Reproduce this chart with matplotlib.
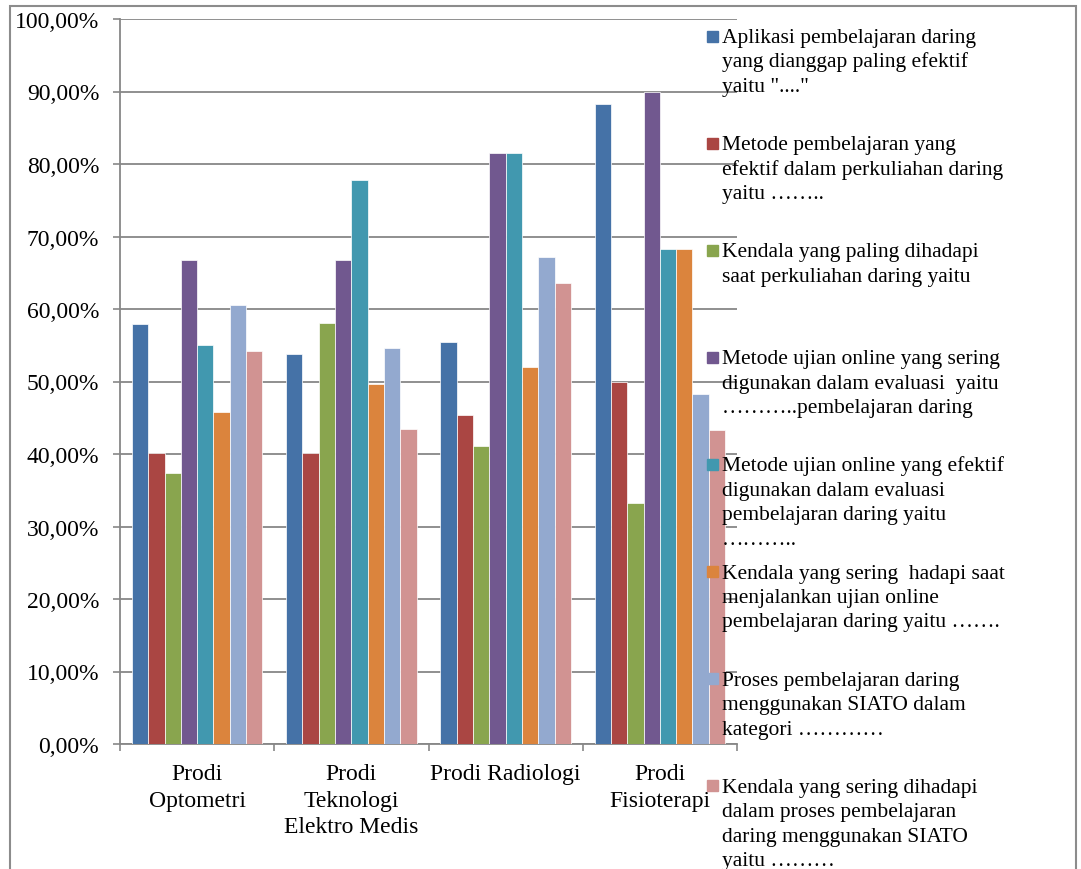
import numpy as np
import matplotlib.pyplot as plt
from matplotlib.patches import Rectangle

W, H = 1081, 870

prodi = ["Prodi\nOptometri", "Prodi\nTeknologi\nElektro Medis", "Prodi Radiologi", "Prodi\nFisioterapi"]

# nilai dalam persen, per prodi
aplikasi_efektif = [57.9, 53.8, 55.4, 88.3]
metode_pembelajaran = [40.1, 40.1, 45.4, 50.0]
kendala_perkuliahan = [37.4, 58.1, 41.1, 33.3]
ujian_sering = [66.7, 66.7, 81.5, 90.0]
ujian_efektif = [55.1, 77.8, 81.5, 68.3]
kendala_ujian = [45.8, 49.6, 52.0, 68.3]
proses_siato = [60.6, 54.6, 67.2, 48.3]
kendala_siato = [54.2, 43.5, 63.6, 43.3]

labels = [
    "Aplikasi pembelajaran daring\nyang dianggap paling efektif\nyaitu \"....\"",
    "Metode pembelajaran yang\nefektif dalam perkuliahan daring\nyaitu ……..",
    "Kendala yang paling dihadapi\nsaat perkuliahan daring yaitu",
    "Metode ujian online yang sering\ndigunakan dalam evaluasi  yaitu\n………..pembelajaran daring",
    "Metode ujian online yang efektif\ndigunakan dalam evaluasi\npembelajaran daring yaitu\n………..",
    "Kendala yang sering  hadapi saat\nmenjalankan ujian online\npembelajaran daring yaitu …….",
    "Proses pembelajaran daring\nmenggunakan SIATO dalam\nkategori …………",
    "Kendala yang sering dihadapi\ndalam proses pembelajaran\ndaring menggunakan SIATO\nyaitu ………",
]
series = [aplikasi_efektif, metode_pembelajaran, kendala_perkuliahan, ujian_sering,
          ujian_efektif, kendala_ujian, proses_siato, kendala_siato]
colors = ["#4572A7", "#AA4643", "#89A54E", "#71588F", "#4198AF", "#DB843D", "#93A9CF", "#D19392"]

plt.rcParams["font.family"] = ["Liberation Serif", "DejaVu Serif"]
grey = "#878787"

fig = plt.figure(figsize=(W / 100, H / 100), dpi=100)
ax = fig.add_axes([120 / W, 1 - 745 / H, (737 - 120) / W, (745 - 20) / H])

x = np.arange(len(prodi))
group = 0.845
width = group / len(series)
for i, (vals, c) in enumerate(zip(series, colors)):
    ax.bar(x - group / 2 + width * (i + 0.5), vals, width, color=c,
           edgecolor="white", linewidth=0.5, zorder=3)

ax.set_xlim(-0.5, len(prodi) - 0.5)
ax.set_ylim(0, 100)
ax.set_yticks(np.arange(0, 101, 10))
ax.set_yticklabels([f"{v:.2f}%".replace(".", ",") for v in np.arange(0, 101, 10)])
ax.yaxis.grid(True, color=grey, linewidth=1.3, zorder=0)
ax.tick_params(axis="y", length=5, width=1.2, color=grey, pad=10, labelsize=17)

ax.set_xticks(np.arange(-0.5, len(prodi), 1))
ax.set_xticklabels([])
ax.set_xticks(x, minor=True)
ax.set_xticklabels(prodi, minor=True)
ax.tick_params(axis="x", which="major", length=5, width=1.2, color=grey)
ax.tick_params(axis="x", which="minor", length=0, pad=14, labelsize=17)
for t in ax.get_xticklabels(minor=True):
    t.set_linespacing(1.32)

for s in ["top", "right"]:
    ax.spines[s].set_visible(False)
for s in ["left", "bottom"]:
    ax.spines[s].set_color(grey)
    ax.spines[s].set_linewidth(1.3)

# legenda di sisi kanan
for i, (lab, c) in enumerate(zip(labels, colors)):
    yc = 37 + 107.1 * i
    fig.add_artist(Rectangle((707 / W, 1 - (yc + 5.5) / H), 11 / W, 11 / H,
                             transform=fig.transFigure, color=c, zorder=5))
    for j, line in enumerate(lab.split("\n")):
        fig.text(722 / W, 1 - (yc + 6 + 24.5 * j) / H, line, fontsize=15.5,
                 va="baseline", ha="left", zorder=6)

# bingkai luar
fig.add_artist(Rectangle((10 / W, -0.05), (1076 - 10) / W, 1.05 - 7 / H,
                         transform=fig.transFigure, fill=False,
                         edgecolor="#8c8c8c", linewidth=1.5, clip_on=False))

plt.savefig("out.png", dpi=100)
